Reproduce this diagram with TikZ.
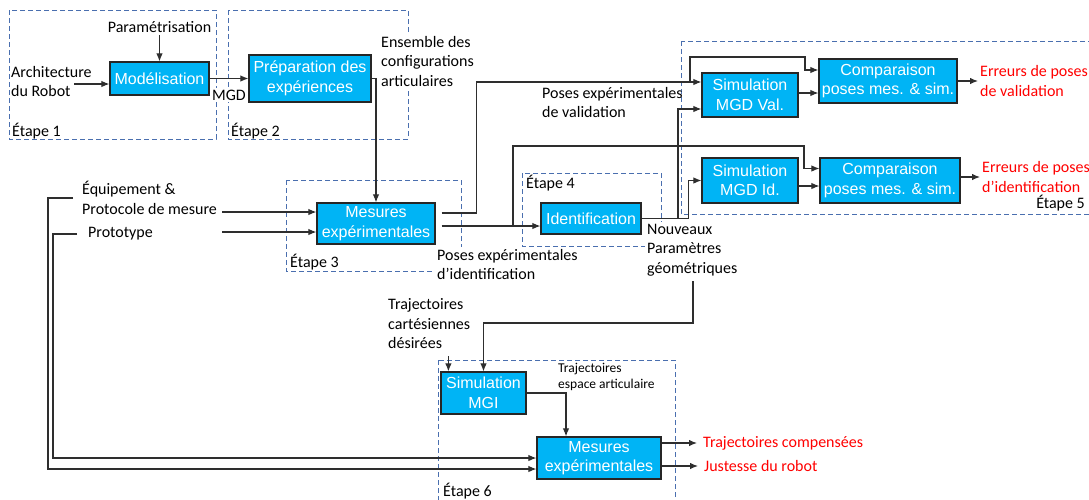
\documentclass[tikz,border=0pt]{standalone}
\usepackage{fontspec}
\setmainfont{Carlito}
\newfontfamily\boxfont{Liberation Sans}
\usetikzlibrary{arrows.meta}
\definecolor{boxfill}{HTML}{00B4F5}
\definecolor{boxline}{HTML}{262626}
\definecolor{lineclr}{HTML}{2E2E2E}
\definecolor{dashclr}{HTML}{4A6FAF}
\definecolor{outred}{HTML}{FF0000}
\begin{document}
\begin{tikzpicture}[x=1pt,y=-1pt,
  box/.style={draw=boxline, fill=boxfill, line width=1.2pt, text=white,
    font=\boxfont\fontsize{16}{19.5}\selectfont, align=center, inner sep=0pt},
  lbl/.style={font=\fontsize{16}{19.5}\selectfont, align=left, inner sep=2pt, anchor=west},
  small/.style={font=\fontsize{13.5}{16.5}\selectfont},
  cover/.style={fill=white},
  outlbl/.style={lbl, text=outred},
  stagelbl/.style={lbl, inner sep=0pt, text=black},
  arr/.style={draw=lineclr, line width=1.15pt, -{Latex[length=8pt,width=6.5pt]}},
  stage/.style={draw=dashclr, line width=0.9pt, dash pattern=on 5pt off 3pt}]
\useasboundingbox (0,0) rectangle (1089,499);

% stage frames
\draw[stage] (9,10) rectangle (216,139);
\draw[stage] (228,10) rectangle (408,139);
\draw[stage] (286,180) rectangle (461,271);
\draw[stage] (522,173) rectangle (661,246);
\draw[stage] (681,41) rectangle (1094,214);
\draw[stage] (438,360) rectangle (675,506);

% stage titles
\node[stagelbl] (e1) at (12,131) {Étape 1};
\node[stagelbl] (e2) at (231,131) {Étape 2};
\node[stagelbl] (e3) at (290,262) {Étape 3};
\node[stagelbl] (e4) at (526,183) {Étape 4};
\node[stagelbl, anchor=east] (e5) at (1085,203) {Étape 5};
\node[stagelbl] (e6) at (443,491) {Étape 6};

% flow labels
\node[lbl, anchor=center] (param) at (159.5,27) {Paramétrisation};
\node[lbl] (arch) at (9,81.5) {Architecture\\du Robot};
\node[lbl, cover] (mgd) at (210,95) {MGD};
\node[lbl, cover] (ens) at (379,61) {Ensemble des\\configurations\\articulaires};
\node[lbl] (equip) at (80,198) {Équipement \&\\Protocole de mesure};
\node[lbl] (proto) at (86,234) {Prototype};
\node[lbl] (pval) at (540,102.5) {Poses expérimentales\\de validation};
\node[lbl, cover] (pid) at (435,264.5) {Poses expérimentales\\d’identification};
\node[lbl, cover] (nouv) at (645,250) {Nouveaux\\Paramètres\\géométriques};
\node[lbl] (tcd) at (386,324) {Trajectoires\\cartésiennes\\désirées};
\node[lbl, small] (tea) at (556,377) {Trajectoires\\espace articulaire};

% results
\node[outlbl] (errval) at (978,81) {Erreurs de poses\\de validation};
\node[outlbl] (errid) at (980,177) {Erreurs de poses\\d’identification};
\node[outlbl, inner xsep=6pt] (trajc) at (697,443) {Trajectoires compensées};
\node[outlbl, inner xsep=6pt] (just) at (698,466) {Justesse du robot};

% processing blocks
\node[box, minimum width=99pt, minimum height=33pt] (mod) at (159.5,78.5) {Modélisation};
\node[box, minimum width=122pt, minimum height=47pt] (prep) at (310,78.5) {Préparation des\\expériences};
\node[box, minimum width=118pt, minimum height=41pt] (mes1) at (376,223.5) {Mesures\\expérimentales};
\node[box, minimum width=100pt, minimum height=31pt] (ident) at (591,218.5) {Identification};
\node[box, minimum width=96pt, minimum height=44pt] (simval) at (750,95) {Simulation\\MGD Val.};
\node[box, minimum width=96pt, minimum height=45pt] (simid) at (750,180.5) {Simulation\\MGD Id.};
\node[box, minimum width=138pt, minimum height=44pt] (cmpval) at (888,81) {Comparaison\\poses mes. \& sim.};
\node[box, minimum width=140pt, minimum height=45pt] (cmpid) at (890,180.5) {Comparaison\\poses mes. \& sim.};
\node[box, minimum width=85pt, minimum height=42pt] (mgi) at (483.5,393) {Simulation\\MGI};
\node[box, minimum width=124pt, minimum height=42pt] (mes2) at (599,458) {Mesures\\expérimentales};

% junction and entry points
\coordinate (archout) at (74,84);
\coordinate (jv) at (690,82);
\coordinate (ji) at (513,226);
\coordinate (jn) at (678,218.5);
\coordinate (np) at (693,281);
\coordinate (pin1) at (222,212);
\coordinate (pin2) at (222,232);

% stages 1-2
\draw[arr] (param.south) -- (mod.north);
\draw[arr] (archout) -- (archout -| mod.west);
\draw[arr] (mod.east) -- (prep.west);
\draw[arr] (prep.east) -| (mes1.north);

% stage 3 inputs
\draw[arr] (pin1) -- (pin1 -| mes1.west);
\draw[arr] (pin2) -- (pin2 -| mes1.west);

% validation poses
\draw[arr, shorten <=6pt] ([yshift=10.5pt]mes1.east) -- ++(41,0) |- ([yshift=13pt]simval.west);
\draw[arr] (jv) -- ++(0,-25) -- ++(115,0) |- ([yshift=11pt]cmpval.west);

% identification poses
\draw[arr, shorten <=6pt] ([yshift=-2.5pt]mes1.east) -- ([yshift=-7.5pt]ident.west);
\draw[arr] (ji) -- ++(0,-80) -- ++(291,0) |- ([yshift=12pt]cmpid.west);

% identified parameters
\draw[arr] (ident.east) -- ++(47,0) |- (simid.west);
\draw[arr] (jn) |- ([yshift=-14pt]simval.west);

% stage 5
\draw[arr] ([yshift=2pt]simval.east) -- ([yshift=-12pt]cmpval.west);
\draw[arr] ([yshift=-5.5pt]simid.east) -- ([yshift=-5.5pt]cmpid.west);
\draw[arr] (cmpval.east) -- (errval.west);
\draw[arr] ([yshift=3.5pt]cmpid.east) -- (errid.west);

% stage 6
\draw[arr] (np) -- ++(0,42) -| (mgi.north);
\draw[arr] ([xshift=8pt,yshift=15pt]mgi.north west) -- ([xshift=8pt]mgi.north west);
\draw[arr] (mgi.east) -| ([xshift=-33pt]mes2.north);
\draw[arr] ([yshift=15pt]mes2.east) -- (trajc.west);
\draw[arr] ([yshift=-8pt]mes2.east) -- (just.west);
\draw[arr] ([xshift=-7pt]equip.west) -- ++(-25,0) |- ([yshift=-11pt]mes2.west);
\draw[arr] ([xshift=-9pt]proto.west) -- ++(-24,0) |- (mes2.west);
\end{tikzpicture}
\end{document}
